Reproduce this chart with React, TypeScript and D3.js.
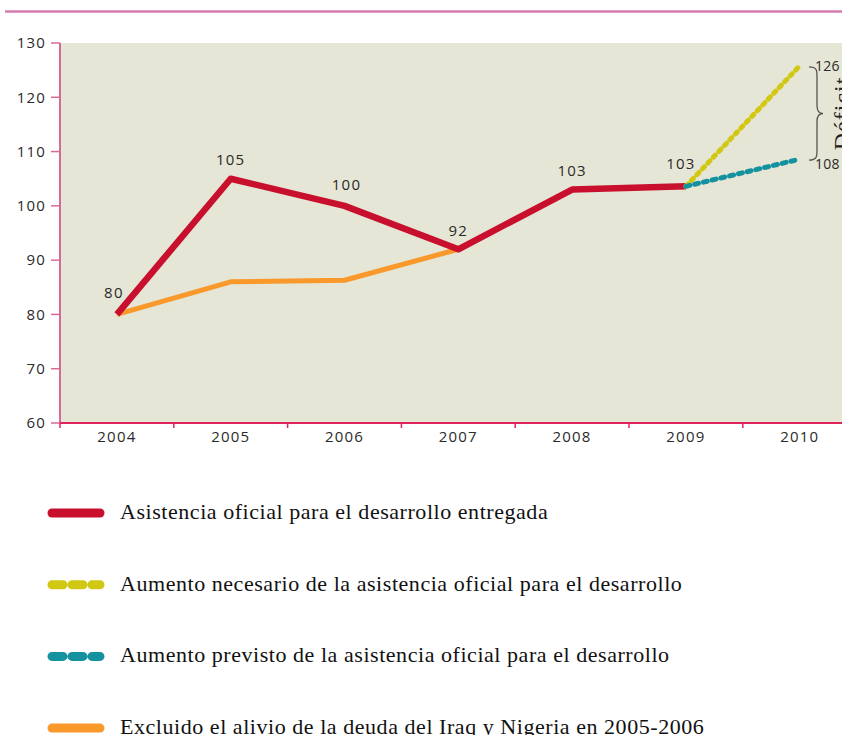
import React from "react";
import * as d3 from "d3";

const years = ["2004", "2005", "2006", "2007", "2008", "2009", "2010"];
const yTicks = [60, 70, 80, 90, 100, 110, 120, 130];

const delivered = [
  { year: "2004", value: 80, label: "80" },
  { year: "2005", value: 105, label: "105" },
  { year: "2006", value: 100, label: "100" },
  { year: "2007", value: 92, label: "92" },
  { year: "2008", value: 103, label: "103" },
  { year: "2009", value: 103.6, label: "103" },
];
const excluding = [
  { year: "2004", value: 80 },
  { year: "2005", value: 86 },
  { year: "2006", value: 86.3 },
  { year: "2007", value: 92 },
];
const needed = [
  { year: "2009", value: 103.6 },
  { year: "2010", value: 125.8, label: "126" },
];
const planned = [
  { year: "2009", value: 103.6 },
  { year: "2010", value: 108.6, label: "108" },
];

const legendItems = [
  { text: "Asistencia oficial para el desarrollo entregada", color: "#C8102E", kind: "solid" },
  { text: "Aumento necesario de la asistencia oficial para el desarrollo", color: "#D2C813", kind: "dash" },
  { text: "Aumento previsto de la asistencia oficial para el desarrollo", color: "#14929F", kind: "dash" },
  { text: "Excluido el alivio de la deuda del Iraq y Nigeria en 2005-2006", color: "#F9982B", kind: "solid" },
];

const W = 842;
const H = 735;
const left = 60;
const top = 43;
const bottom = 423;

export default function App() {
  const x = d3.scaleBand<string>().domain(years).range([left, left + 7 * 113.8]);
  const y = d3.scaleLinear().domain([60, 130]).range([bottom, top]);
  const cx = (yr: string) => (x(yr) as number) + x.bandwidth() / 2;
  const line = d3
    .line<{ year: string; value: number }>()
    .x((d) => cx(d.year))
    .y((d) => y(d.value));

  const labelFont = "'Open Sans', 'Noto Sans', sans-serif";
  const serif = "'Liberation Serif', 'DejaVu Serif', serif";

  const braceTop = y(needed[1].value) + 1;
  const braceBot = y(planned[1].value) + 1;
  const braceMid = (braceTop + braceBot) / 2;
  const bx = 809;
  const bw = 8;
  const bracePath = `M${bx},${braceTop} C${bx + bw},${braceTop} ${bx + bw},${braceTop + 4} ${bx + bw},${braceTop + 10}
    L${bx + bw},${braceMid - 8} C${bx + bw},${braceMid - 2} ${bx + bw + 2},${braceMid} ${bx + bw + 6},${braceMid}
    C${bx + bw + 2},${braceMid} ${bx + bw},${braceMid + 2} ${bx + bw},${braceMid + 8}
    L${bx + bw},${braceBot - 10} C${bx + bw},${braceBot - 4} ${bx + bw},${braceBot} ${bx},${braceBot}`;

  const tickText = { fontFamily: labelFont, fontSize: 15, letterSpacing: 1.2, fill: "#2a2a2a" };
  const endText = { fontFamily: labelFont, fontSize: 14, letterSpacing: 0.2, fill: "#2a2a2a" };

  return (
    <svg
      width={W}
      height={H}
      style={{ position: "absolute", left: 0, top: 0, background: "#ffffff" }}
    >
      <line x1={5} x2={W} y1={11.5} y2={11.5} stroke="#D67BAE" strokeWidth={2.5} />
      <rect x={left + 1} y={top} width={W - left} height={bottom - top} fill="#E6E6D6" />

      {/* left axis */}
      <line x1={left} x2={left} y1={top} y2={bottom} stroke="#D66A97" strokeWidth={2} />
      {yTicks.map((t) => (
        <g key={t}>
          <line x1={left - 9} x2={left} y1={y(t)} y2={y(t)} stroke="#D66A97" strokeWidth={1.5} />
          <text x={left - 14} y={y(t)} dy="0.35em" textAnchor="end" {...tickText}>
            {t}
          </text>
        </g>
      ))}

      {/* bottom axis */}
      <line x1={left} x2={W} y1={bottom} y2={bottom} stroke="#E0245C" strokeWidth={2} />
      {years.map((yr) => (
        <g key={yr}>
          <line
            x1={x(yr) as number}
            x2={x(yr) as number}
            y1={bottom}
            y2={bottom + 5}
            stroke="#E0245C"
            strokeWidth={1.5}
          />
          <text x={cx(yr)} y={bottom + 19} textAnchor="middle" {...tickText}>
            {yr}
          </text>
        </g>
      ))}

      {/* lines */}
      <path d={line(excluding) as string} fill="none" stroke="#F9982B" strokeWidth={5} strokeLinejoin="round" />
      <path d={line(delivered) as string} fill="none" stroke="#C8102E" strokeWidth={6.5} strokeLinejoin="round" />
      <path
        d={line(needed) as string}
        fill="none"
        stroke="#D2C813"
        strokeWidth={5}
        strokeLinecap="round"
        strokeDasharray="3 5"
      />
      <path
        d={line(planned) as string}
        fill="none"
        stroke="#14929F"
        strokeWidth={5}
        strokeLinecap="round"
        strokeDasharray="4 5"
      />

      {/* data labels */}
      {delivered.map((d, i) => {
        const dx = [-3, 0, 2, 0, 0, -5][i];
        const dyOff = [-16, -14, -16, -13, -14, -17][i];
        return (
          <text key={d.year} x={cx(d.year) + dx} y={y(d.value) + dyOff} textAnchor="middle" {...tickText}>
            {d.label}
          </text>
        );
      })}
      <text x={815} y={y(needed[1].value) + 5} {...endText}>
        {needed[1].label}
      </text>
      <text x={815} y={y(planned[1].value) + 10} {...endText}>
        {planned[1].label}
      </text>

      {/* brace */}
      <path d={bracePath} fill="none" stroke="#555" strokeWidth={1.3} />
      <text
        transform={`translate(850,${braceMid}) rotate(-90)`}
        textAnchor="middle"
        fontFamily={serif}
        fontSize={24}
        letterSpacing={1}
        fill="#222"
      >
        Déficit
      </text>

      {/* legend */}
      {legendItems.map((it, i) => {
        const ly = 513 + i * 71.7;
        return (
          <g key={it.text}>
            {it.kind === "solid" ? (
              <line x1={52} x2={100} y1={ly} y2={ly} stroke={it.color} strokeWidth={9} strokeLinecap="round" />
            ) : (
              <line
                x1={52}
                x2={100}
                y1={ly}
                y2={ly}
                stroke={it.color}
                strokeWidth={9}
                strokeLinecap="round"
                strokeDasharray="11 9"
              />
            )}
            <text
              transform={`translate(120,${ly + 6}) scale(1.1,1)`}
              fontFamily={serif}
              fontSize={20}
              letterSpacing={0.5}
              fill="#111"
            >
              {it.text}
            </text>
          </g>
        );
      })}
    </svg>
  );
}
